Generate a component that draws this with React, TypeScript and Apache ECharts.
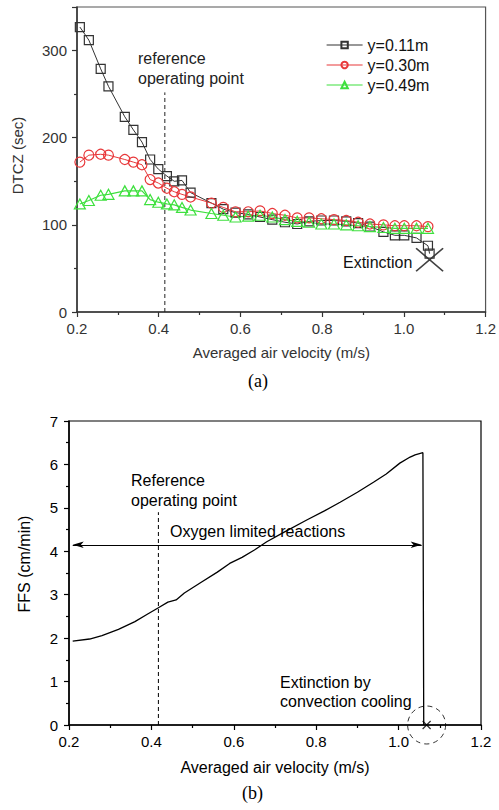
import React, { useEffect, useRef } from "react";
import * as echarts from "echarts";

// ---- Panel (a): DTCZ vs averaged air velocity ----
const velocity = [
  0.207, 0.229, 0.258, 0.277, 0.317, 0.338, 0.359, 0.379, 0.399, 0.42, 0.438,
  0.457, 0.478, 0.529, 0.558, 0.588, 0.619, 0.648, 0.678, 0.709, 0.739, 0.768,
  0.798, 0.829, 0.859, 0.888, 0.917, 0.95, 0.978, 1.001, 1.031, 1.059,
];
const dtcz011 = [
  327, 312, 279, 259, 224, 209, 195, 175, 164, 156, 150, 151, 137, 125, 118,
  114, 112, 109, 106, 103, 101, 104, 105, 105, 104, 102, 98, 92, 88, 88, 85, 76,
];
const dtcz011TailX = [1.063];
const dtcz011TailY = [67];
const dtcz030 = [
  172, 180, 181, 180, 175, 172, 169, 152, 148, 142, 138, 135, 132, 125, 120,
  115, 115, 116, 113, 111, 108, 108, 107, 106, 105, 103, 101, 100, 99, 99, 99, 98,
];
const dtcz049 = [
  124, 128, 134, 135, 139, 139, 139, 129, 126, 124, 123, 120, 117, 113, 111,
  109, 110, 111, 109, 106, 104, 103, 101, 101, 100, 99, 98, 97, 96, 96, 96, 96,
];
const legendNames = ["y=0.11m", "y=0.30m", "y=0.49m"];
const refPointA = [0.415, 252];
const extinctionA = [1.063, 60];

// ---- Panel (b): FFS vs averaged air velocity ----
const ffsVelocity = [
  0.209, 0.25, 0.28, 0.32, 0.36, 0.39, 0.417, 0.44, 0.46, 0.48, 0.52, 0.56,
  0.59, 0.62, 0.65, 0.68, 0.72, 0.777, 0.82, 0.858, 0.9, 0.939, 0.97, 1.003,
  1.028, 1.04, 1.059, 1.061,
];
const ffsValues = [
  1.93, 1.98, 2.06, 2.2, 2.38, 2.55, 2.7, 2.83, 2.88, 3.04, 3.28, 3.52, 3.72,
  3.86, 4.03, 4.22, 4.43, 4.72, 4.93, 5.13, 5.36, 5.59, 5.78, 6.03, 6.17, 6.22,
  6.27, 0,
];
const refPointB = [0.417, 4.9];
const arrowB = { from: 0.209, to: 1.056, y: 4.15 };
const extinctionB = [1.068, 0];

const xTicks = { min: 0.2, max: 1.2, interval: 0.2 };

const SANS = "'Liberation Sans', Arial, sans-serif";
const SERIF = "'Liberation Serif', 'Times New Roman', serif";

export default function App() {
  const ref = useRef<HTMLDivElement>(null);
  useEffect(() => {
    if (!ref.current) return;
    const chart = echarts.init(ref.current, undefined, { renderer: "svg" });
    const colA = "#333";
    const red = "#e8383a";
    const green = "#3ee03e";
    const pairs = (xs: number[], ys: number[]) => xs.map((x, i) => [x, ys[i]]);

    const xAxisCommon = (grid: number, col: string, nameSize: number, nameGap: number) => ({
      type: "value",
      gridIndex: grid,
      min: xTicks.min,
      max: xTicks.max,
      interval: xTicks.interval,
      name: "Averaged air velocity (m/s)",
      nameLocation: "middle",
      nameGap,
      nameTextStyle: { fontFamily: SANS, fontSize: nameSize, color: col },
      axisLine: { show: true, onZero: false, lineStyle: { color: col, width: 1.5 } },
      axisTick: { show: true, inside: false, length: 5, lineStyle: { color: col, width: 1.2 } },
      minorTick: { show: true, splitNumber: 2, length: 3, lineStyle: { color: col, width: 1.2 } },
      splitLine: { show: false },
      minorSplitLine: { show: false },
      axisLabel: {
        fontFamily: SANS,
        fontSize: 15,
        color: col,
        margin: 9,
        formatter: (v: number) => v.toFixed(1),
      },
    });

    const option: any = {
      animation: false,
      backgroundColor: "#fff",
      grid: [
        { left: 77, top: 7, width: 413, height: 305, show: true, borderColor: "#555", borderWidth: 1.2, backgroundColor: "transparent" },
        { left: 69, top: 421, width: 412, height: 304, show: true, borderColor: "#000", borderWidth: 1.2, backgroundColor: "transparent" },
      ],
      legend: {
        data: legendNames,
        orient: "vertical",
        left: 321,
        top: 32,
        itemWidth: 36,
        itemHeight: 8,
        itemGap: 4,
        selectedMode: false,
        lineStyle: { width: 1.2 },
        textStyle: { fontFamily: SANS, fontSize: 16, color: "#111" },
      },
      xAxis: [xAxisCommon(0, colA, 15, 33), xAxisCommon(1, "#000", 16, 34)],
      yAxis: [
        {
          type: "value",
          gridIndex: 0,
          min: 0,
          max: 350,
          interval: 100,
          name: "DTCZ (sec)",
          nameLocation: "middle",
          nameGap: 52,
          nameTextStyle: { fontFamily: SANS, fontSize: 15, color: colA, padding: [0, 0, 0, 8] },
          axisLine: { show: true, onZero: false, lineStyle: { color: colA, width: 1.5 } },
          axisTick: { show: true, inside: false, length: 5, lineStyle: { color: colA, width: 1.2 } },
          minorTick: { show: true, splitNumber: 2, length: 3, lineStyle: { color: colA, width: 1.2 } },
          splitLine: { show: false },
          axisLabel: { fontFamily: SANS, fontSize: 15, color: colA, margin: 10, showMaxLabel: false },
        },
        {
          type: "value",
          gridIndex: 1,
          min: 0,
          max: 7,
          interval: 1,
          name: "FFS (cm/min)",
          nameLocation: "middle",
          nameGap: 37,
          nameTextStyle: { fontFamily: SANS, fontSize: 16, color: "#000", padding: [0, 0, 0, 18] },
          axisLine: { show: true, onZero: false, lineStyle: { color: "#000", width: 1.5 } },
          axisTick: { show: true, inside: false, length: 5, lineStyle: { color: "#000", width: 1.2 } },
          minorTick: { show: true, splitNumber: 2, length: 3, lineStyle: { color: "#000", width: 1.2 } },
          splitLine: { show: false },
          axisLabel: { fontFamily: SANS, fontSize: 15, color: "#000", margin: 11 },
        },
      ],
      series: [
        // reference dashed line (a)
        {
          type: "line",
          xAxisIndex: 0,
          yAxisIndex: 0,
          data: [[refPointA[0], 0], [refPointA[0], refPointA[1]]],
          symbol: "none",
          lineStyle: { color: "#222", width: 1, type: [4, 3] },
          silent: true,
        },
        {
          name: legendNames[0],
          type: "line",
          xAxisIndex: 0,
          yAxisIndex: 0,
          data: pairs(velocity, dtcz011).concat(pairs(dtcz011TailX, dtcz011TailY)),
          symbol: "rect",
          symbolSize: 9,
          lineStyle: { color: colA, width: 1 },
          itemStyle: { color: "transparent", borderColor: colA, borderWidth: 1.2 },
        },
        {
          name: legendNames[1],
          type: "line",
          xAxisIndex: 0,
          yAxisIndex: 0,
          data: pairs(velocity, dtcz030),
          symbol: "circle",
          symbolSize: 10,
          lineStyle: { color: red, width: 1 },
          itemStyle: { color: "transparent", borderColor: red, borderWidth: 1.2 },
        },
        {
          name: legendNames[2],
          type: "line",
          xAxisIndex: 0,
          yAxisIndex: 0,
          data: pairs(velocity, dtcz049),
          symbol: "triangle",
          symbolSize: [11, 10],
          lineStyle: { color: green, width: 1.2 },
          itemStyle: { color: "transparent", borderColor: green, borderWidth: 1.2 },
        },
        // extinction cross (a)
        {
          type: "scatter",
          xAxisIndex: 0,
          yAxisIndex: 0,
          data: [extinctionA],
          symbol: "path://M0,0L10,10M10,0L0,10",
          symbolSize: [27, 23],
          itemStyle: { color: "transparent", borderColor: "#111", borderWidth: 1.6 },
          silent: true,
        },
        // reference dashed line (b)
        {
          type: "line",
          xAxisIndex: 1,
          yAxisIndex: 1,
          data: [[refPointB[0], 0], [refPointB[0], refPointB[1]]],
          symbol: "none",
          lineStyle: { color: "#000", width: 1, type: [4, 3] },
          silent: true,
        },
        // FFS curve
        {
          type: "line",
          xAxisIndex: 1,
          yAxisIndex: 1,
          data: pairs(ffsVelocity, ffsValues),
          symbol: "none",
          lineStyle: { color: "#000", width: 1.3 },
          silent: true,
        },
        // double arrow
        {
          type: "line",
          xAxisIndex: 1,
          yAxisIndex: 1,
          data: [],
          silent: true,
          markLine: {
            silent: true,
            symbol: ["arrow", "arrow"],
            symbolSize: [5, 11],
            label: { show: false },
            lineStyle: { color: "#000", width: 1, type: "solid" },
            data: [[{ coord: [arrowB.from, arrowB.y] }, { coord: [arrowB.to, arrowB.y] }]],
          },
        },
        // extinction dashed circle and small cross (b)
        {
          type: "scatter",
          xAxisIndex: 1,
          yAxisIndex: 1,
          data: [extinctionB],
          symbol: "circle",
          symbolSize: 38,
          itemStyle: { color: "transparent", borderColor: "#000", borderWidth: 1, borderType: [5, 4] },
          silent: true,
        },
        {
          type: "scatter",
          xAxisIndex: 1,
          yAxisIndex: 1,
          data: [extinctionB],
          symbol: "path://M0,0L10,10M10,0L0,10",
          symbolSize: 8,
          itemStyle: { color: "transparent", borderColor: "#000", borderWidth: 1.2 },
          silent: true,
        },
      ],
      graphic: [
        { type: "text", left: 138, top: 50, style: { text: "reference", font: `16px ${SANS}`, fill: "#222" } },
        { type: "text", left: 138, top: 70, style: { text: "operating point", font: `16px ${SANS}`, fill: "#222" } },
        { type: "text", left: 343, top: 254, style: { text: "Extinction", font: `16px ${SANS}`, fill: "#111" } },
        { type: "text", left: 248, top: 372, style: { text: "(a)", font: `18px ${SERIF}`, fill: "#000" } },
        { type: "text", left: 131, top: 472, style: { text: "Reference", font: `16px ${SANS}`, fill: "#000" } },
        { type: "text", left: 131, top: 492, style: { text: "operating point", font: `16px ${SANS}`, fill: "#000" } },
        { type: "text", left: 170, top: 523, style: { text: "Oxygen limited reactions", font: `16px ${SANS}`, fill: "#000" } },
        { type: "text", left: 280, top: 674, style: { text: "Extinction by", font: `16px ${SANS}`, fill: "#000" } },
        { type: "text", left: 280, top: 693, style: { text: "convection cooling", font: `16px ${SANS}`, fill: "#000" } },
        { type: "text", left: 242, top: 784, style: { text: "(b)", font: `18px ${SERIF}`, fill: "#000" } },
      ],
    };
    chart.setOption(option);
    return () => chart.dispose();
  }, []);
  return (
    <div
      ref={ref}
      style={{ position: "absolute", left: 0, top: 0, width: 499, height: 810, background: "#fff" }}
    />
  );
}
